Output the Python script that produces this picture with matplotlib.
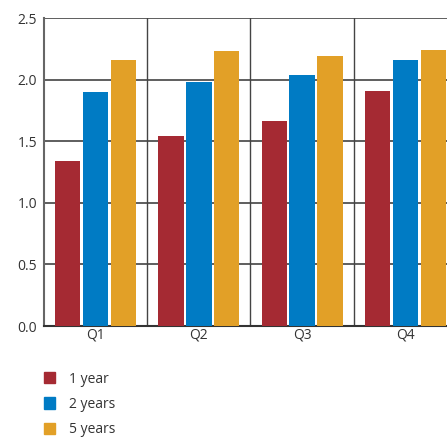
import matplotlib.pyplot as plt
import numpy as np
from matplotlib.patches import Patch

plt.rcParams['font.family'] = ['Open Sans', 'DejaVu Sans']

quarters = ["Q1", "Q2", "Q3", "Q4"]
one_year = [1.34, 1.54, 1.66, 1.91]
two_years = [1.90, 1.98, 2.04, 2.16]
five_years = [2.16, 2.23, 2.19, 2.24]

series = ["1 year", "2 years", "5 years"]
colors = ["#A52A33", "#007BC4", "#E2A027"]

fig = plt.figure(figsize=(4.47, 4.37), dpi=100)
ax = fig.add_axes([44/447, 111/437, 413/447, 308/437])

x = np.arange(len(quarters))
w = 0.245
offs = [-0.27, 0, 0.27]
for vals, off, c in zip([one_year, two_years, five_years], offs, colors):
    ax.bar(x + off, vals, width=w, color=c, zorder=3)

ax.set_xlim(-0.5, 3.5)
ax.set_ylim(0, 2.5)
ax.set_yticks(np.arange(0, 2.51, 0.5))
ax.set_yticklabels(["%.1f" % v for v in np.arange(0, 2.51, 0.5)])
ax.set_xticks(x)
ax.set_xticklabels(quarters)
ax.tick_params(length=0, labelsize=10, colors="#333333")
ax.tick_params(axis="y", pad=5)
ax.tick_params(axis="x", pad=1)

for yv in np.arange(0.5, 2.51, 0.5):
    ax.axhline(yv, color="#333333", lw=1.1, zorder=1)
for xv in [0.5, 1.5, 2.5]:
    ax.axvline(xv, color="#444444", lw=1.0, zorder=1)
for s in ["top", "right"]:
    ax.spines[s].set_visible(False)
ax.spines["left"].set_color("#666666")
ax.spines["left"].set_linewidth(1.5)
ax.spines["bottom"].set_color("#333333")
ax.spines["bottom"].set_linewidth(1.5)

handles = [Patch(color=c, label=l) for c, l in zip(colors, series)]
fig.legend(handles=handles, loc="upper left", bbox_to_anchor=(38/447, 1 - 366/437),
           frameon=False, fontsize=10, handlelength=0.85, handleheight=0.85,
           handletextpad=1.0, labelspacing=0.74, labelcolor="#333333",
           borderaxespad=0)

fig.savefig("out.png", dpi=100)
